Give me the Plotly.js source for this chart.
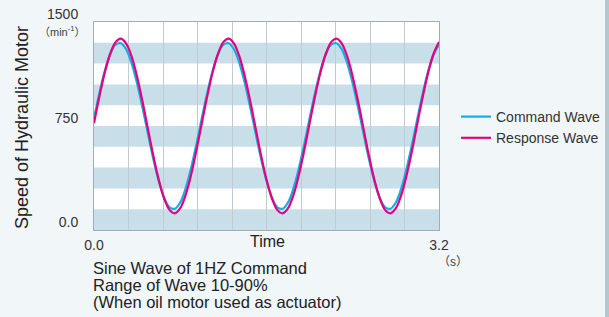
<!DOCTYPE html>
<html>
<head>
<meta charset="utf-8">
<script src="https://cdn.plot.ly/plotly-3.0.1.min.js"></script>
<style>html,body{margin:0;padding:0;background:#f1f6f9;}#chart{width:609px;height:317px;}</style>
</head>
<body>
<div id="chart"></div>
<script>
// Time axis (s)
const timeS = [0.00,0.05,0.10,0.15,0.20,0.25,0.30,0.35,0.40,0.45,0.50,0.55,0.60,0.65,0.70,0.75,0.80,0.85,0.90,0.95,
  1.00,1.05,1.10,1.15,1.20,1.25,1.30,1.35,1.40,1.45,1.50,1.55,1.60,1.65,1.70,1.75,1.80,1.85,1.90,1.95,
  2.00,2.05,2.10,2.15,2.20,2.25,2.30,2.35,2.40,2.45,2.50,2.55,2.60,2.65,2.70,2.75,2.80,2.85,2.90,2.95,
  3.00,3.05,3.10,3.15,3.20];
// Command wave speed (min^-1)
const commandWave = [806,988,1147,1266,1336,1347,1301,1200,1055,881,694,512,353,234,164,153,199,300,445,619,
  806,988,1147,1266,1336,1347,1301,1200,1055,881,694,512,353,234,164,153,199,300,445,619,
  806,988,1147,1266,1336,1347,1301,1200,1055,881,694,512,353,234,164,153,199,300,445,619,
  806,988,1147,1266,1336];
// Response wave speed (min^-1)
const responseWave = [770,963,1136,1271,1355,1380,1343,1248,1104,926,730,537,364,229,145,120,157,252,396,574,
  770,963,1136,1271,1355,1380,1343,1248,1104,926,730,537,364,229,145,120,157,252,396,574,
  770,963,1136,1271,1355,1380,1343,1248,1104,926,730,537,364,229,145,120,157,252,396,574,
  770,963,1136,1271,1355];
const seriesNames = ["Command Wave", "Response Wave"];
const xTickVals = [0,0.32,0.64,0.96,1.28,1.6,1.92,2.24,2.56,2.88,3.2];
const xTickText = ["0.0","","","","","","","","","","3.2"];
const yTickVals = [0,750,1500];
const yTickText = ["0.0","750","1500"];
const bandStarts = [0,300,600,900,1200];
const bandHeight = 150;
const noteLines = ["Sine Wave of 1HZ Command","Range of Wave 10-90%","(When oil motor used as actuator)"];

const FONT = "Liberation Sans, Arial, 'Noto Sans CJK JP', sans-serif";
const traces = [
  {x: timeS, y: commandWave, name: seriesNames[0], type: "scatter", mode: "lines",
   line: {color: "#12aee6", width: 2.2, shape: "spline"}},
  {x: timeS, y: responseWave, name: seriesNames[1], type: "scatter", mode: "lines",
   line: {color: "#e5007f", width: 2.2, shape: "spline"}}
];
const shapes = bandStarts.map(b => ({type: "rect", xref: "paper", yref: "y", x0: 0, x1: 1, y0: b, y1: b + bandHeight,
  fillcolor: "#c8dfea", line: {width: 0}, layer: "below"}));
shapes.push({type: "rect", xref: "paper", yref: "paper", x0: (605-94)/345, x1: (612-94)/345, y0: -2, y1: 2,
  fillcolor: "#b7c6ca", line: {width: 0}});
const px = v => (v - 94) / 345;
const py = v => (230 - v) / 208;
const annotations = [
  {text: "Speed of Hydraulic Motor", xref: "paper", yref: "paper", x: px(22), y: py(128),
   xanchor: "center", yanchor: "middle", textangle: -90, showarrow: false,
   font: {family: FONT, size: 18, color: "#222222"}},
  {text: "（min<sup>-1</sup>）", xref: "paper", yref: "paper", x: px(62), y: py(31),
   xanchor: "center", yanchor: "middle", showarrow: false, font: {family: FONT, size: 11, color: "#444444"}},
  {text: "Time", xref: "paper", yref: "paper", x: px(267), y: py(241),
   xanchor: "center", yanchor: "middle", showarrow: false, font: {family: FONT, size: 16, color: "#222222"}},
  {text: "（s）", xref: "paper", yref: "paper", x: px(453), y: py(262),
   xanchor: "center", yanchor: "middle", showarrow: false, font: {family: FONT, size: 12, color: "#444444"}}
];
noteLines.forEach((t, i) => annotations.push({text: t, xref: "paper", yref: "paper", x: px(91), y: py(268 + 17 * i),
  xanchor: "left", yanchor: "middle", align: "left", showarrow: false,
  font: {family: FONT, size: 16.5, color: "#222222"}}));
const layout = {
  width: 609, height: 317,
  margin: {l: 94, r: 170, t: 22, b: 87, autoexpand: false},
  paper_bgcolor: "#f1f6f9", plot_bgcolor: "#ffffff",
  font: {family: FONT, size: 14, color: "#333333"},
  showlegend: true,
  legend: {x: px(456), y: py(101), xanchor: "left", yanchor: "top",
    bgcolor: "rgba(0,0,0,0)", font: {family: FONT, size: 14, color: "#333333"}, tracegroupgap: 0},
  xaxis: {range: [0, 3.2], tickmode: "array", tickvals: xTickVals, ticktext: xTickText,
    showgrid: true, gridcolor: "#c3cbd2", gridwidth: 1, zeroline: false,
    showline: true, linecolor: "#a3acb3", linewidth: 1, mirror: true, ticks: "",
    ticklabelstandoff: 2, fixedrange: true, automargin: false},
  yaxis: {range: [0, 1500], tickmode: "array", tickvals: yTickVals, ticktext: yTickText,
    showgrid: false, zeroline: false, showline: true, linecolor: "#a3acb3", linewidth: 1, mirror: true,
    ticks: "", ticklabelstandoff: 12, ticklabelshift: -8, fixedrange: true, automargin: false},
  shapes: shapes,
  annotations: annotations
};
Plotly.newPlot("chart", traces, layout, {displayModeBar: false, staticPlot: true});
</script>
</body>
</html>
